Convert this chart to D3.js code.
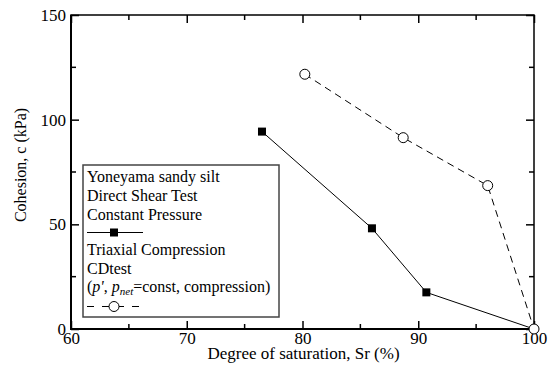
<!DOCTYPE html>
<html><head><meta charset="utf-8">
<script src="https://cdn.jsdelivr.net/npm/d3@7"></script>
</head>
<body style="margin:0;background:#fff"><svg id="c" width="558" height="367" font-family="Liberation Serif"></svg>
<script>
// Data
const directShearSr = [76.5, 86.0, 90.7, 100];
const directShearC  = [94.3, 48.1, 17.5, 0];
const triaxialSr = [80.2, 88.7, 96.0, 100];
const triaxialC  = [121.7, 91.4, 68.5, 0];
const xTicks = [60, 70, 80, 90, 100];
const yTicks = [0, 50, 100, 150];
const xMinorTicks = [65, 75, 85, 95];
const yMinorTicks = [25, 75, 125];
const xTitle = "Degree of saturation, Sr (%)";
const yTitle = "Cohesion, c (kPa)";

const svg = d3.select("#c");
const L = 71, R = 534, T = 15, B = 329;
const x = d3.scaleLinear().domain([60, 100]).range([L, R]);
const y = d3.scaleLinear().domain([0, 150]).range([B, T]);

function txt(sel, size) {
  return sel.style("font-family", "'Liberation Serif'").style("font-size", size + "px");
}

// Frame
svg.append("rect").attr("x", L).attr("y", T).attr("width", R - L).attr("height", B - T)
  .attr("fill", "none").attr("stroke", "#000").attr("stroke-width", 1.5);
svg.append("line").attr("x1", L).attr("x2", L).attr("y1", T).attr("y2", B + 1).attr("stroke", "#000").attr("stroke-width", 2);
svg.append("line").attr("x1", L - 1).attr("x2", R).attr("y1", B).attr("y2", B).attr("stroke", "#000").attr("stroke-width", 2);

// Major ticks via axes (inward); labels drawn by bottom/left axes
const fmt = d3.format("d");
const axB = svg.append("g").attr("transform", `translate(0,${B})`)
  .call(d3.axisBottom(x).tickValues(xTicks).tickSize(-8).tickPadding(0).tickFormat(fmt));
axB.attr("font-family", null).attr("font-size", null);
axB.select(".domain").remove();
txt(axB.selectAll("text").attr("y", 15).attr("dy", 0), 17);
axB.selectAll("line").attr("stroke-width", 1.5);

const axT = svg.append("g").attr("transform", `translate(0,${T})`)
  .call(d3.axisTop(x).tickValues(xTicks).tickSize(-8).tickFormat(""));
axT.select(".domain").remove();
axT.selectAll("line").attr("stroke-width", 1.5);

const axL = svg.append("g").attr("transform", `translate(${L},0)`)
  .call(d3.axisLeft(y).tickValues(yTicks).tickSize(-8).tickFormat(fmt));
axL.attr("font-family", null).attr("font-size", null);
axL.select(".domain").remove();
txt(axL.selectAll("text").attr("x", -5).attr("dy", "0.33em"), 17);
axL.selectAll("line").attr("stroke-width", 1.5);

const axRt = svg.append("g").attr("transform", `translate(${R},0)`)
  .call(d3.axisRight(y).tickValues(yTicks).tickSize(-8).tickFormat(""));
axRt.select(".domain").remove();
axRt.selectAll("line").attr("stroke-width", 1.5);

// Minor ticks
[[B, -5], [T, 5]].forEach(([yy, d]) => {
  svg.append("g").selectAll("line").data(xMinorTicks).join("line")
    .attr("x1", v => x(v)).attr("x2", v => x(v)).attr("y1", yy).attr("y2", yy + d)
    .attr("stroke", "#000").attr("stroke-width", 1.5);
});
[[L, 5], [R, -5]].forEach(([xx, d]) => {
  svg.append("g").selectAll("line").data(yMinorTicks).join("line")
    .attr("y1", v => y(v)).attr("y2", v => y(v)).attr("x1", xx).attr("x2", xx + d)
    .attr("stroke", "#000").attr("stroke-width", 1.5);
});

// Axis titles
txt(svg.append("text").attr("x", (L + R) / 2 + 1).attr("y", 359).attr("text-anchor", "middle"), 17).text(xTitle);
txt(svg.append("text").attr("transform", "translate(26,165) rotate(-90)").attr("text-anchor", "middle"), 16).text(yTitle);

// Series
const ds = directShearSr.map((s, i) => [s, directShearC[i]]);
const tx = triaxialSr.map((s, i) => [s, triaxialC[i]]);
const line = d3.line().x(d => x(d[0])).y(d => y(d[1]));

svg.append("path").datum(ds).attr("d", line).attr("fill", "none").attr("stroke", "#000").attr("stroke-width", 1);
svg.append("path").datum(tx).attr("d", line).attr("fill", "none").attr("stroke", "#000")
  .attr("stroke-width", 1).attr("stroke-dasharray", "7,5");

svg.append("g").selectAll("rect").data(ds).join("rect")
  .attr("x", d => x(d[0]) - 4).attr("y", d => y(d[1]) - 4).attr("width", 8).attr("height", 8).attr("fill", "#000");
svg.append("g").selectAll("circle").data(tx).join("circle")
  .attr("cx", d => x(d[0])).attr("cy", d => y(d[1])).attr("r", 5)
  .attr("fill", "#fff").attr("stroke", "#000").attr("stroke-width", 1);

// Legend
const lg = svg.append("g");
lg.append("rect").attr("x", 83).attr("y", 165).attr("width", 196).attr("height", 152)
  .attr("fill", "#fff").attr("stroke", "#444").attr("stroke-width", 1.5);
const legendLines = [
  ["Yoneyama sandy silt", 182], ["Direct Shear Test", 201], ["Constant Pressure", 219.5],
  ["Triaxial Compression", 255], ["CDtest", 273.5]
];
legendLines.forEach(([t, yy]) => txt(lg.append("text").attr("x", 87).attr("y", yy), 16).text(t));
const pt = txt(lg.append("text").attr("x", 87).attr("y", 292), 16);
pt.append("tspan").text("(");
pt.append("tspan").style("font-style", "italic").text("p'");
pt.append("tspan").text(", ");
pt.append("tspan").style("font-style", "italic").text("p");
pt.append("tspan").style("font-style", "italic").style("font-size", "11px").attr("dy", 3).text("net");
pt.append("tspan").attr("dy", -3).text("=const, compression)");

lg.append("line").attr("x1", 87).attr("x2", 143).attr("y1", 232.5).attr("y2", 232.5).attr("stroke", "#000");
lg.append("rect").attr("x", 110).attr("y", 228.5).attr("width", 8).attr("height", 8).attr("fill", "#000");
lg.append("line").attr("x1", 87).attr("x2", 139).attr("y1", 306.5).attr("y2", 306.5).attr("stroke", "#000")
  .attr("stroke-dasharray", "7,8");
lg.append("circle").attr("cx", 114).attr("cy", 306.5).attr("r", 5).attr("fill", "#fff").attr("stroke", "#000");
</script></body></html>
